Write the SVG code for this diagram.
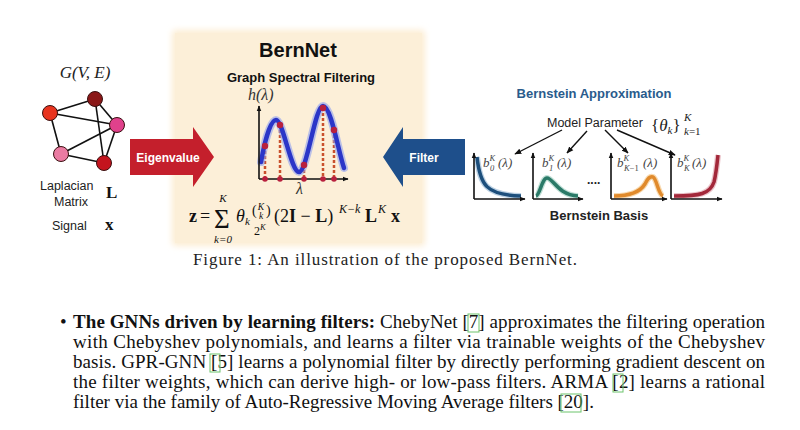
<svg xmlns="http://www.w3.org/2000/svg" width="800" height="430" viewBox="0 0 800 430">
<defs>
<marker id="ah" viewBox="0 0 10 10" refX="9" refY="5" markerWidth="7" markerHeight="7" orient="auto" markerUnits="userSpaceOnUse">
<path d="M0,1 L10,5 L0,9 z" fill="#111"/>
</marker>
<marker id="ahs" viewBox="0 0 10 10" refX="9" refY="5" markerWidth="6" markerHeight="6" orient="auto" markerUnits="userSpaceOnUse">
<path d="M0,1 L10,5 L0,9 z" fill="#111"/>
</marker>
<filter id="soft" x="-10%" y="-10%" width="120%" height="120%"><feGaussianBlur stdDeviation="3"/></filter>
</defs>
<style>
.sans{font-family:"Liberation Sans",Arial,sans-serif}
.serif{font-family:"Liberation Serif","Times New Roman",serif}
.b{font-weight:bold}
.it{font-style:italic}
.node{stroke:#3a1010;stroke-width:1}
.edge{stroke:#111;stroke-width:1.6;fill:none}
.axis{stroke:#111;stroke-width:1.6;fill:none}
.dash{stroke:#c9502c;stroke-width:2.5;stroke-dasharray:3 2;fill:none}
.dot{fill:#b8203e}
.cite{fill:none;stroke:#6cc46c;stroke-width:1}
.para{font-family:"Liberation Serif","Times New Roman",serif;font-size:19px;fill:#111}
.blab{font-family:"Liberation Serif","Times New Roman",serif;font-style:italic;fill:#444}
</style>
<rect x="0" y="0" width="800" height="430" fill="#ffffff"/>

<!-- BernNet panel -->
<g id="panel">
<rect x="172" y="30" width="253" height="216" rx="4" fill="#fcedd3" filter="url(#soft)"/>
<rect x="175" y="33" width="247" height="210" fill="#fcefd8"/>
<text x="298" y="57" text-anchor="middle" class="sans b" font-size="20" fill="#111">BernNet</text>
<text x="301" y="82" text-anchor="middle" class="sans b" font-size="13" fill="#111">Graph Spectral Filtering</text>
</g>

<!-- left graph -->
<g id="graph">
<text x="85" y="78" text-anchor="middle" class="serif it" font-size="17" fill="#222">G(V, E)</text>
<g class="edges">
<line class="edge" x1="50" y1="113" x2="95" y2="99"/>
<line class="edge" x1="50" y1="113" x2="117" y2="125"/>
<line class="edge" x1="50" y1="113" x2="61" y2="154"/>
<line class="edge" x1="95" y1="99" x2="117" y2="125"/>
<line class="edge" x1="95" y1="99" x2="104" y2="163"/>
<line class="edge" x1="117" y1="125" x2="61" y2="154"/>
<line class="edge" x1="117" y1="125" x2="104" y2="163"/>
<line class="edge" x1="61" y1="154" x2="104" y2="163"/>
</g>
<circle class="node" cx="95" cy="99" r="7.5" fill="#8a1717"/>
<circle class="node" cx="50" cy="113" r="7.5" fill="#e8341f"/>
<circle class="node" cx="117" cy="125" r="7.5" fill="#e0418c"/>
<circle class="node" cx="61" cy="154" r="7.5" fill="#ea7ba2"/>
<circle class="node" cx="104" cy="163" r="7.5" fill="#c4141e"/>
<text x="40" y="190" class="sans" font-size="12.5" fill="#222">Laplacian</text>
<text x="71" y="206" text-anchor="middle" class="sans" font-size="12.5" fill="#222">Matrix</text>
<text x="106" y="198" class="serif b" font-size="17" fill="#111">L</text>
<text x="52" y="230" class="sans" font-size="12.5" fill="#222">Signal</text>
<text x="105" y="230" class="serif b" font-size="17" fill="#111">x</text>
</g>

<!-- Eigenvalue arrow -->
<g id="eigenvalue">
<path d="M130,139 L193,139 L193,127 L214,157 L193,187 L193,175 L130,175 z" fill="#c41f2c"/>
<text x="168" y="162" text-anchor="middle" class="sans b" font-size="12" fill="#ffffff">Eigenvalue</text>
</g>

<!-- Filter arrow -->
<g id="filter">
<path d="M465,139 L403,139 L403,127 L383,157 L403,187 L403,175 L465,175 z" fill="#1e4f8b"/>
<text x="424" y="162" text-anchor="middle" class="sans b" font-size="12" fill="#ffffff">Filter</text>
</g>

<!-- spectral filter plot -->
<g id="spectral-plot">
<text x="248" y="100" class="serif it" font-size="16" fill="#333">h(λ)</text>
<line class="dash" x1="265" y1="146" x2="265" y2="178"/>
<line class="dash" x1="280" y1="125" x2="280" y2="178"/>
<line class="dash" x1="304" y1="165" x2="304" y2="178"/>
<line class="dash" x1="323" y1="108" x2="323" y2="178"/>
<line class="dash" x1="334" y1="130" x2="334" y2="178"/>
<path d="M261,162 C264,145 270,120 276,120 C283,120 291,172 299,172 C307,172 315,106 323,106 C331,106 338,150 344,168" fill="none" stroke="#8fa0f0" stroke-width="8" stroke-linecap="round" opacity="0.6"/>
<path d="M261,162 C264,145 270,120 276,120 C283,120 291,172 299,172 C307,172 315,106 323,106 C331,106 338,150 344,168" fill="none" stroke="#2b36c8" stroke-width="4.5" stroke-linecap="round"/>
<line class="axis" x1="259" y1="179" x2="259" y2="106" marker-end="url(#ahs)"/>
<line class="axis" x1="259" y1="179" x2="348" y2="179" marker-end="url(#ahs)"/>
<circle class="dot" cx="265" cy="146" r="3.2"/>
<circle class="dot" cx="280" cy="125" r="3.2"/>
<circle class="dot" cx="304" cy="165" r="3.2"/>
<circle class="dot" cx="323" cy="108" r="3.2"/>
<circle class="dot" cx="334" cy="130" r="3.2"/>
<circle class="dot" cx="265" cy="179" r="2.8"/>
<circle class="dot" cx="280" cy="179" r="2.8"/>
<circle class="dot" cx="304" cy="179" r="2.8"/>
<circle class="dot" cx="323" cy="179" r="2.8"/>
<circle class="dot" cx="334" cy="179" r="2.8"/>
<text x="296" y="194" class="serif it" font-size="16" fill="#333">λ</text>
</g>

<!-- formula -->
<g id="formula" class="serif" fill="#111">
<text x="189" y="222" font-size="18" class="b">z</text>
<text x="200" y="222" font-size="18">=</text>
<text x="214" y="228" font-size="27">Σ</text>
<text x="223" y="202" font-size="11" class="it" text-anchor="middle">K</text>
<text x="223" y="243" font-size="11" class="it" text-anchor="middle">k=0</text>
<text x="236" y="222" font-size="18" class="it">θ</text>
<text x="245" y="225" font-size="11" class="it">k</text>
<text x="252" y="215" font-size="14">(</text>
<text x="261" y="210" font-size="9.5" class="it" text-anchor="middle">K</text>
<text x="261" y="219" font-size="9.5" class="it" text-anchor="middle">k</text>
<text x="266" y="215" font-size="14">)</text>
<text x="254" y="235" font-size="12">2</text>
<text x="260" y="230" font-size="8.5" class="it">K</text>
<text x="274" y="222" font-size="18">(2<tspan font-weight="bold">I</tspan> − <tspan font-weight="bold">L</tspan>)</text>
<text x="339" y="213" font-size="12" class="it">K−k</text>
<text x="365" y="222" font-size="18" class="b">L</text>
<text x="378" y="213" font-size="12" class="it">K</text>
<text x="391" y="222" font-size="18" class="b">x</text>
</g>

<!-- Bernstein approximation -->
<g id="bernstein-title">
<text x="594" y="98" text-anchor="middle" class="sans b" font-size="13" fill="#2a5b8c">Bernstein Approximation</text>
</g>
<g id="model-parameter">
<text x="547" y="127" class="sans" font-size="12.5" fill="#222">Model Parameter</text>
<text x="651" y="131" class="serif" font-size="17" fill="#222">{<tspan class="it">θ</tspan><tspan class="it" font-size="11" dy="3">k</tspan><tspan dy="-3">}</tspan></text>
<text x="684" y="121" class="serif it" font-size="11" fill="#222">K</text>
<text x="684" y="135" class="serif it" font-size="11" fill="#222">k<tspan font-style="normal">=1</tspan></text>
</g>

<g id="connectors">
<line x1="562" y1="130" x2="515" y2="154" stroke="#111" stroke-width="1.4" marker-end="url(#ah)"/>
<line x1="587" y1="131" x2="567" y2="153" stroke="#111" stroke-width="1.4" marker-end="url(#ah)"/>
<line x1="605" y1="130" x2="628" y2="153" stroke="#111" stroke-width="1.4" marker-end="url(#ah)"/>
<line x1="617" y1="130" x2="675" y2="155" stroke="#111" stroke-width="1.4" marker-end="url(#ah)"/>
</g>

<g id="basis-0">
<path d="M477,157 C480,185 486,195 521,196" fill="none" stroke="#7aa3c8" stroke-width="6" opacity="0.5"/>
<path d="M477,157 C480,185 486,195 521,196" fill="none" stroke="#1d4f7c" stroke-width="3.5"/>
<line class="axis" x1="474" y1="199" x2="474" y2="153" marker-end="url(#ahs)"/>
<line class="axis" x1="474" y1="199" x2="525" y2="199" marker-end="url(#ahs)"/>
<text x="483" y="167" class="blab" font-size="13">b<tspan font-size="8.5" dy="-6">K</tspan></text>
<text x="490" y="171" class="blab" font-size="8.5" font-style="normal">0</text>
<text x="498" y="167" class="blab" font-size="13" font-style="normal">(λ)</text>
</g>
<g id="basis-1">
<path d="M536,196 C540,195 542,178 547,178 C553,178 558,195 578,196" fill="none" stroke="#7fbfae" stroke-width="6" opacity="0.5"/>
<path d="M536,196 C540,195 542,178 547,178 C553,178 558,195 578,196" fill="none" stroke="#2b7a68" stroke-width="3.5"/>
<line class="axis" x1="533" y1="199" x2="533" y2="153" marker-end="url(#ahs)"/>
<line class="axis" x1="533" y1="199" x2="583" y2="199" marker-end="url(#ahs)"/>
<text x="542" y="167" class="blab" font-size="13">b<tspan font-size="8.5" dy="-6">K</tspan></text>
<text x="549" y="171" class="blab" font-size="8.5" font-style="normal">1</text>
<text x="557" y="167" class="blab" font-size="13" font-style="normal">(λ)</text>
</g>
<text x="587" y="184" class="sans b" font-size="12" fill="#222">....</text>
<g id="basis-k-1">
<path d="M614,196 C630,196 640,192 645,184 C648,178 650,176 653,177 C657,179 658,194 663,196" fill="none" stroke="#f3c07a" stroke-width="6" opacity="0.6"/>
<path d="M614,196 C630,196 640,192 645,184 C648,178 650,176 653,177 C657,179 658,194 663,196" fill="none" stroke="#e08a2c" stroke-width="3.5"/>
<line class="axis" x1="611" y1="199" x2="611" y2="153" marker-end="url(#ahs)"/>
<line class="axis" x1="611" y1="199" x2="667" y2="199" marker-end="url(#ahs)"/>
<text x="617" y="167" class="blab" font-size="13">b<tspan font-size="8.5" dy="-6">K</tspan></text>
<text x="624" y="171" class="blab" font-size="8.5">K<tspan font-style="normal">−1</tspan></text>
<text x="643" y="167" class="blab" font-size="13" font-style="normal">(λ)</text>
</g>
<g id="basis-k">
<path d="M674,196 C700,196 710,194 714,182 C716,174 717,165 718,155" fill="none" stroke="#d88a95" stroke-width="6" opacity="0.5"/>
<path d="M674,196 C700,196 710,194 714,182 C716,174 717,165 718,155" fill="none" stroke="#a3283a" stroke-width="3.5"/>
<line class="axis" x1="671" y1="199" x2="671" y2="153" marker-end="url(#ahs)"/>
<line class="axis" x1="671" y1="199" x2="722" y2="199" marker-end="url(#ahs)"/>
<text x="677" y="167" class="blab" font-size="13">b<tspan font-size="8.5" dy="-6">K</tspan></text>
<text x="684" y="171" class="blab" font-size="8.5">K</text>
<text x="692" y="167" class="blab" font-size="13" font-style="normal">(λ)</text>
</g>
<g id="basis-label">
<text x="599" y="220" text-anchor="middle" class="sans b" font-size="13" fill="#222">Bernstein Basis</text>
</g>

<!-- caption -->
<text x="193" y="265" class="serif" font-size="17" fill="#222" textLength="384" lengthAdjust="spacing">Figure 1: An illustration of the proposed BernNet.</text>

<!-- paragraph -->
<text x="60" y="328" class="para">•</text>
<text x="73" y="328" class="para" textLength="692" lengthAdjust="spacing"><tspan font-weight="bold">The GNNs driven by learning filters:</tspan> ChebyNet [7] approximates the filtering operation</text>
<text x="73" y="348" class="para" textLength="692" lengthAdjust="spacing">with Chebyshev polynomials, and learns a filter via trainable weights of the Chebyshev</text>
<text x="73" y="368" class="para" textLength="692" lengthAdjust="spacing">basis. GPR-GNN [5] learns a polynomial filter by directly performing gradient descent on</text>
<text x="73" y="388" class="para" textLength="692" lengthAdjust="spacing">the filter weights, which can derive high- or low-pass filters. ARMA [2] learns a rational</text>
<text x="73" y="408" class="para">filter via the family of Auto-Regressive Moving Average filters [20].</text>
<g id="citation-boxes">
<rect class="cite" x="468" y="314" width="11" height="18"/>
<rect class="cite" x="210" y="354" width="10" height="18"/>
<rect class="cite" x="613" y="374" width="10" height="18"/>
<rect class="cite" x="561" y="394" width="20" height="18"/>
</g>
</svg>
